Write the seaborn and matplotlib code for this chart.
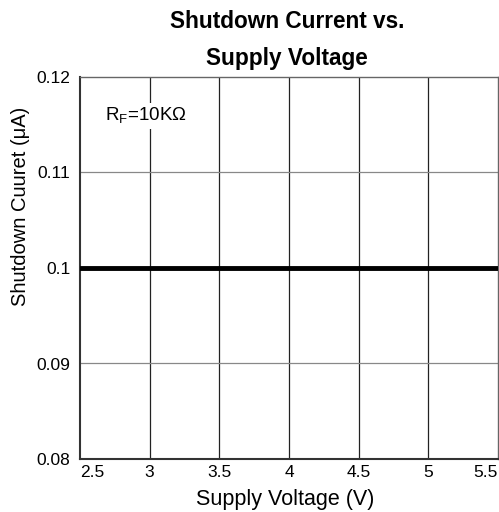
import matplotlib
matplotlib.use("Agg")
import matplotlib.pyplot as plt
import seaborn as sns
import pandas as pd

voltage = [2.5, 3.0, 3.5, 4.0, 4.5, 5.0, 5.5]
current = [0.1, 0.1, 0.1, 0.1, 0.1, 0.1, 0.1]
x_ticks = [2.5, 3, 3.5, 4, 4.5, 5, 5.5]
x_labels = ["2.5", "3", "3.5", "4", "4.5", "5", "5.5"]
y_ticks = [0.08, 0.09, 0.1, 0.11, 0.12]
y_labels = ["0.08", "0.09", "0.1", "0.11", "0.12"]

sns.set_theme(style="white")
plt.rcParams['font.family'] = ['Liberation Sans', 'DejaVu Sans']
plt.rcParams['text.color'] = 'black'
plt.rcParams['axes.labelcolor'] = 'black'

df = pd.DataFrame({"V": voltage, "I": current})

fig = plt.figure(figsize=(4.99, 5.12), dpi=100)
ax = fig.add_axes([80/499, 1-459/512, 418/499, 382/512])

ax.set_xlim(2.5, 5.5)
ax.set_ylim(0.08, 0.12)
for xv in x_ticks[1:-1]:
    ax.axvline(xv, color="#222222", lw=0.9, zorder=1)
for yv in y_ticks[1:-1]:
    ax.axhline(yv, color="#888888", lw=0.9, zorder=1)

sns.lineplot(data=df, x="V", y="I", ax=ax, color="black", lw=3.5, zorder=3)

ax.set_xticks(x_ticks)
ax.set_xticklabels(x_labels, fontsize=12.5)
ax.set_yticks(y_ticks)
ax.set_yticklabels(y_labels, fontsize=12.5)
tl = ax.get_xticklabels()
tl[0].set_ha("left")
tl[-1].set_ha("right")
ax.tick_params(axis="x", length=0, pad=4.5, colors="black")
ax.tick_params(axis="y", length=0, pad=7, colors="black")

for s in ["left", "bottom"]:
    ax.spines[s].set_color("#333333")
    ax.spines[s].set_linewidth(1.5)
for s in ["top", "right"]:
    ax.spines[s].set_color("#666666")
    ax.spines[s].set_linewidth(1.0)

ax.set_xlabel("")
ax.set_ylabel("")
fig.text(285/499, 1-505/512, "Supply Voltage (V)", fontsize=15.5,
         ha="center", va="baseline", color="black")
fig.text(21/499, 1-206/512, "Shutdown Cuuret (μA)", fontsize=14.5,
         ha="center", va="center", rotation=90, color="black")

ax.text(2.68, 0.1159, r"R$_\mathregular{F}$=10KΩ", fontsize=13.5, ha="left", va="center",
        color="black", bbox=dict(facecolor="white", edgecolor="none", pad=2), zorder=4)

fig.text(287/499, 1-28/512, "Shutdown Current vs.", ha="center", va="baseline",
         fontsize=16.3, fontweight="bold", color="black")
fig.text(287/499, 1-65/512, "Supply Voltage", ha="center", va="baseline",
         fontsize=16.3, fontweight="bold", color="black")

fig.savefig("out.png", dpi=100)
